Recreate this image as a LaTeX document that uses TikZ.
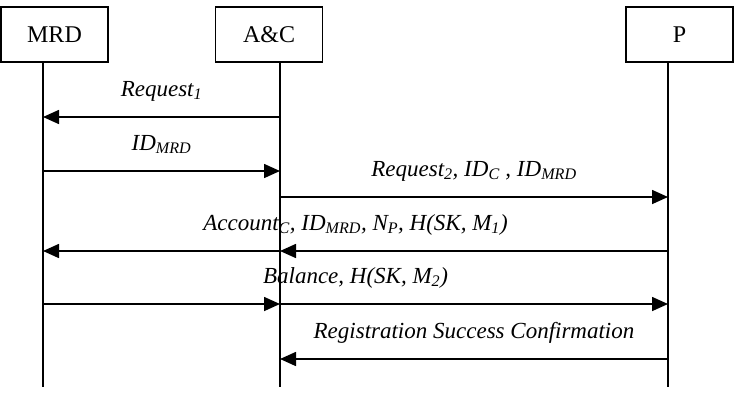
\documentclass[tikz,border=0pt]{standalone}
\usepackage{fontspec}
\setmainfont{Liberation Serif}
\usetikzlibrary{arrows.meta}
\begin{document}
\begin{tikzpicture}[x=1pt,y=-1pt,
  actor/.style={draw, line width=1.6pt, minimum width=107pt, minimum height=55pt, inner sep=0pt, fill=white, font=\fontsize{24}{28}\selectfont},
  life/.style={line width=1.6pt},
  msg/.style={line width=1.6pt, -{Triangle[length=16pt,width=14pt]}},
  lbl/.style={anchor=base, inner sep=0pt, yshift=21pt, font=\fontsize{23}{27}\selectfont\itshape}]
\useasboundingbox (0,0) rectangle (735,402);
% actors
\node[actor] (mrd) at (54.5,34.5) {MRD};
\node[actor] (ac)  at (269,34.5) {A\&C};
\node[actor] (p)   at (679.5,34.5) {P};
% lifelines
\coordinate (mrdT) at (43,62);  \coordinate (mrdB) at (43,387);
\coordinate (acT)  at (280,62); \coordinate (acB)  at (280,387);
\coordinate (pT)   at (668,62); \coordinate (pB)   at (668,387);
\draw[life] (mrdT) -- (mrdB);
\draw[life] (acT) -- (acB);
\draw[life] (pT) -- (pB);
% message anchor points
\coordinate (m1) at (43,117);  \coordinate (a1) at (280,117);
\coordinate (m2) at (43,171);  \coordinate (a2) at (280,171);
\coordinate (a3) at (280,197); \coordinate (p3) at (668,197);
\coordinate (m4) at (43,251);  \coordinate (a4) at (280,251); \coordinate (p4) at (668,251);
\coordinate (m5) at (43,304);  \coordinate (a5) at (280,304); \coordinate (p5) at (668,304);
\coordinate (a6) at (280,359); \coordinate (p6) at (668,359);
% messages
\draw[msg] (a1) -- (m1) node[midway, lbl] {Request\textsubscript{1}};
\draw[msg] (m2) -- (a2) node[midway, lbl] {ID\textsubscript{MRD}};
\draw[msg] (a3) -- (p3) node[midway, lbl] {Request\textsubscript{2}, ID\textsubscript{C} , ID\textsubscript{MRD}};
\draw[msg] (p4) -- (a4);
\draw[msg] (a4) -- (m4);
\path (m4) -- (p4) node[midway, lbl] {Account\textsubscript{C}, ID\textsubscript{MRD}, N\textsubscript{P}, H(SK, M\textsubscript{1})};
\draw[msg] (m5) -- (a5);
\draw[msg] (a5) -- (p5);
\path (m5) -- (p5) node[midway, lbl] {Balance, H(SK, M\textsubscript{2})};
\draw[msg] (p6) -- (a6) node[midway, lbl] {Registration Success Confirmation};
\end{tikzpicture}
\end{document}
